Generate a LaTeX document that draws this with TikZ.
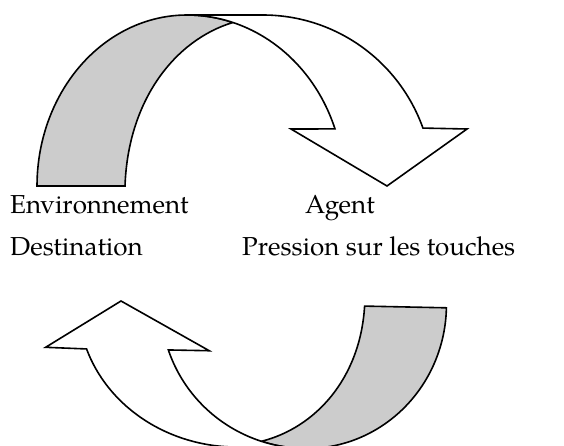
\documentclass[tikz,border=0pt]{standalone}
\usepackage{fontspec}
\setmainfont{TeX Gyre Pagella}
\definecolor{ribbon}{RGB}{204,204,204}
\newcommand\curvedarrow{%
  \path[backside] plot[domain=180:90,samples=50] ({187+150*cos(\x)},{186-171*sin(\x)})
     -- plot[domain=90:73,samples=10] ({187+157*cos(\x)},{186-171*sin(\x)})
     .. controls (175,40) and (128,100) .. (125,186) -- cycle;
  \path[frontside] (187,15) -- (263,15)
     -- plot[domain=90:19.8,samples=50] ({263+170*cos(\x)},{186-171*sin(\x)})
     -- (467,129) -- (387,186) -- (291,129)
     -- plot[domain=19.5:90,samples=50] ({187+157*cos(\x)},{186-171*sin(\x)})
     -- cycle;
}
\begin{document}
\begin{tikzpicture}[x=1pt,y=-1pt,
  outline/.style={draw=black, line width=1.6pt, line join=miter},
  backside/.style={outline, fill=ribbon},
  frontside/.style={outline, fill=white},
  txt/.style={inner sep=0pt, anchor=base west, font=\fontsize{26}{30}\selectfont}]
\useasboundingbox (0,0) rectangle (564,446);
\clip (0,0) rectangle (564,446);
\curvedarrow
\begin{scope}[shift={(121,301)}, rotate=178.8, xscale=0.93, yscale=0.84, shift={(-387,-186)}]
\curvedarrow
\end{scope}
\node[txt] (env) at (10,214) {Environnement};
\node[txt] (agent) at (305,214) {Agent};
\node[txt] (dest) at (10,255) {Destination};
\node[txt] (press) at (242,255) {Pression sur les touches};
\end{tikzpicture}
\end{document}
